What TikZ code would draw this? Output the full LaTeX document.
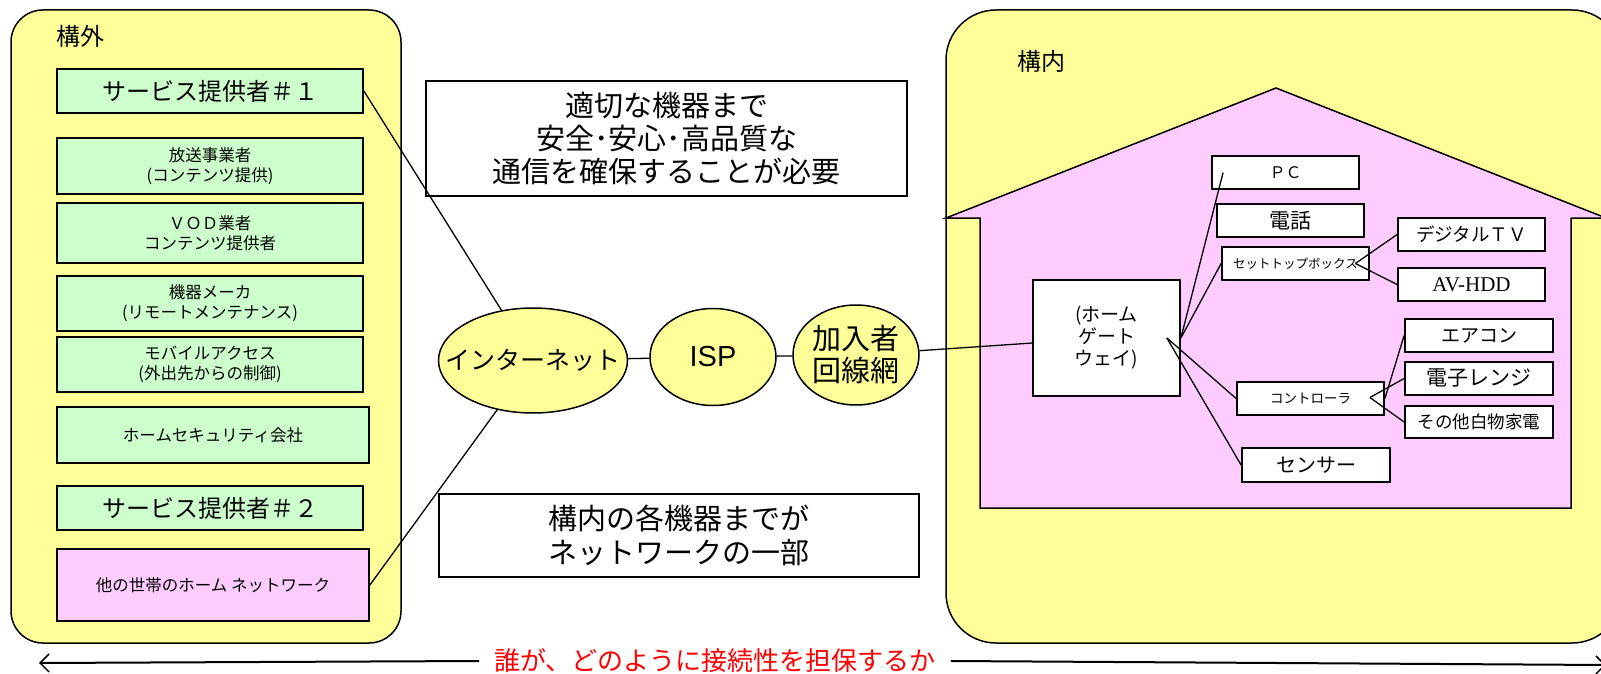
\documentclass[tikz,border=0pt]{standalone}
\usepackage{fontspec}
\setmainfont{Noto Sans CJK JP}
\newfontfamily\timesf{Liberation Serif}
\newfontfamily\arialf{Liberation Sans}
\usetikzlibrary{shapes.geometric,calc,arrows.meta}
\definecolor{pyellow}{HTML}{FFFF99}
\definecolor{pgreen}{HTML}{CCFFCC}
\definecolor{ppink}{HTML}{FFCCFF}
\newcommand{\fsz}[2]{\fontsize{#1}{#2}\selectfont}
\begin{document}
\begin{tikzpicture}[x=1pt,y=-1pt,
  panel/.style={draw, line width=1.5, fill=pyellow, rounded corners=#1},
  gbox/.style={draw, line width=1.8, fill=pgreen, inner sep=0, align=center},
  pbox/.style={draw, line width=1.8, fill=ppink, inner sep=0, align=center},
  wbox/.style={draw, line width=1.8, fill=white, inner sep=0, align=center},
  tbox/.style={draw, line width=1.5, fill=white, inner sep=0, align=center},
  oval/.style={draw, ellipse, line width=1.5, fill=pyellow, inner sep=0},
  conn/.style={line width=1.3},
  bigarrow/.style={line width=2, -{Straight Barb[length=9pt,width=18pt,line width=1.5pt]}}
]
\useasboundingbox (0,0) rectangle (1601,674);
\clip (0,0) rectangle (1601,674);

% panels
\draw[panel=32] (11,10) rectangle (401,643);
\draw[panel=50] (946,10) rectangle (1622,643);
\node[font=\fsz{24}{26}] (outside) at (80,36) {構外};
\node[font=\fsz{24}{26}] (inside) at (1041,61) {構内};

% house
\draw[line width=1.5, fill=ppink] (946,218) -- (1276,88) -- (1606,218) -- (1571,218)
  -- (1571,508) -- (980,508) -- (980,218) -- cycle;

% left column
\node[gbox, minimum width=306, minimum height=44, font=\fsz{24}{28}] (sp1) at (210,91) {サービス提供者＃１};
\node[gbox, minimum width=306, minimum height=56, font=\fsz{16.5}{20}] (hoso) at (210,166) {放送事業者\\(コンテンツ提供)};
\node[gbox, minimum width=306, minimum height=60, font=\fsz{16.5}{20}] (vod) at (210,233) {ＶＯＤ業者\\コンテンツ提供者};
\node[gbox, minimum width=306, minimum height=55, font=\fsz{16.5}{20}] (maker) at (210,303.5) {機器メーカ\\(リモートメンテナンス)};
\node[gbox, minimum width=306, minimum height=55, font=\fsz{16.5}{20}] (mobile) at (210,364.5) {モバイルアクセス\\(外出先からの制御)};
\node[gbox, minimum width=312, minimum height=56, font=\fsz{16.5}{20}] (sec) at (213,435) {ホームセキュリティ会社};
\node[gbox, minimum width=306, minimum height=44, font=\fsz{24}{28}] (sp2) at (210,508) {サービス提供者＃２};
\node[pbox, minimum width=312, minimum height=72, font=\fsz{16.5}{20}] (other) at (213,585) {他の世帯のホーム ネットワーク};

% middle
\node[tbox, minimum width=481, minimum height=115, font=\fsz{29}{33}] (msg1) at (666.5,138.5) {適切な機器まで\\安全･安心･高品質な\\通信を確保することが必要};
\node[tbox, minimum width=480, minimum height=83, font=\fsz{29}{34}] (msg2) at (679,535.5) {構内の各機器までが\\ネットワークの一部};

\node[oval, minimum width=189, minimum height=105,
  label={[font=\fsz{25}{28}]center:インターネット}] (inet) at (533,360.5) {};
\node[oval, minimum width=126, minimum height=97,
  label={[font=\arialf\fsz{29}{32}]center:ISP}] (isp) at (713,357) {};
\node[oval, minimum width=126, minimum height=100,
  label={[font=\fsz{29}{32}, align=center]center:加入者\\回線網}] (kanyu) at (856,355) {};

% house devices
\node[wbox, minimum width=147, minimum height=116, font=\fsz{19}{22}] (gw) at (1106.5,338) {(ホーム\\ゲート\\ウェイ)};
\node[wbox, minimum width=147, minimum height=33, font=\fsz{16}{18}] (pc) at (1285.5,172.5) {ＰＣ};
\node[wbox, minimum width=147, minimum height=33, font=\fsz{21}{24}] (tel) at (1290.5,220.5) {電話};
\node[wbox, minimum width=147, minimum height=33, font=\fsz{12.5}{14}] (stb) at (1295.5,263.5) {セットトップボックス};
\node[wbox, minimum width=147, minimum height=33, font=\fsz{18.5}{22}] (dtv) at (1471.5,234.5) {デジタルＴＶ};
\node[wbox, minimum width=147, minimum height=33, font=\timesf\fsz{21}{24}] (av) at (1471.5,284.5) {AV-HDD};
\node[wbox, minimum width=148, minimum height=33, font=\fsz{19}{22}] (aircon) at (1479,335.5) {エアコン};
\node[wbox, minimum width=148, minimum height=33, font=\fsz{21}{24}] (range) at (1479,378.5) {電子レンジ};
\node[wbox, minimum width=148, minimum height=32, font=\fsz{17.5}{20}] (white) at (1479,422) {その他白物家電};
\node[wbox, minimum width=147, minimum height=33, font=\fsz{13.5}{15}] (ctrl) at (1310.5,398.5) {コントローラ};
\node[wbox, minimum width=148, minimum height=34, font=\fsz{20}{23}] (sensor) at (1316,465) {センサー};

% hub coordinates
\coordinate (pcend) at ($(pc.west)+(12,0)$);
\coordinate (gwhub) at ($(gw.east)+(-14,0)$);
\coordinate (stbhub) at ($(stb.east)+(-14.5,0)$);
\coordinate (ctrlhub) at ($(ctrl.east)+(-15,-1)$);

% connectors
\draw[conn] (sp1.east) -- (inet);
\draw[conn] (other.east) -- (inet);
\draw[conn] (inet) -- (isp);
\draw[conn] (isp) -- (kanyu);
\draw[conn] (kanyu) -- (gw);
\draw[conn] (gw.east) -- (pcend);
\draw[conn] (gw.east) -- (stb.west);
\draw[conn] (gwhub) -- (ctrl.west);
\draw[conn] (gwhub) -- (sensor.west);
\draw[conn] (stbhub) -- (dtv.west);
\draw[conn] (stbhub) -- (av.west);
\draw[conn] (ctrl.east) -- (aircon.west);
\draw[conn] (ctrlhub) -- (range.west);
\draw[conn] (ctrlhub) -- (white.west);

% bottom
\node[text=red, font=\fsz{26}{28}, inner xsep=15, inner ysep=0] (who) at (715,661) {誰が、どのように接続性を担保するか};
\coordinate (lend) at (39,663);
\coordinate (rend) at (1606,665);
\draw[bigarrow] (who.west) -- (lend);
\draw[bigarrow] (who.east) -- (rend);
\end{tikzpicture}
\end{document}
